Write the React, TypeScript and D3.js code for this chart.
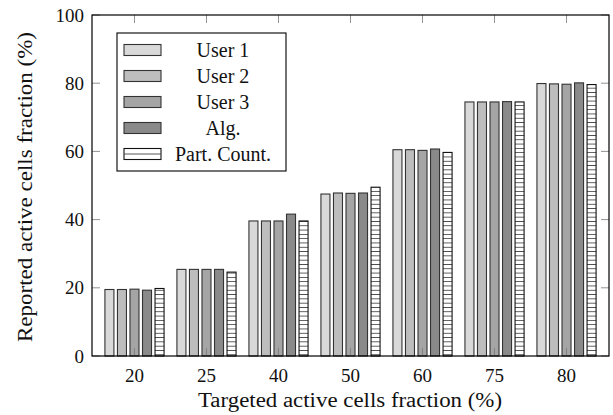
import * as d3 from "d3";

const categories = ["20", "25", "40", "50", "60", "75", "80"];
const seriesNames = ["User 1", "User 2", "User 3", "Alg.", "Part. Count."];
const user1 = [19.5, 25.4, 39.6, 47.5, 60.5, 74.5, 79.9];
const user2 = [19.5, 25.4, 39.6, 47.8, 60.5, 74.5, 79.8];
const user3 = [19.6, 25.4, 39.6, 47.7, 60.3, 74.5, 79.7];
const alg = [19.3, 25.4, 41.6, 47.8, 60.7, 74.6, 80.1];
const partCount = [19.8, 24.6, 39.6, 49.5, 59.7, 74.5, 79.6];
const yTicks = [0, 20, 40, 60, 80, 100];

const seriesValues = [user1, user2, user3, alg, partCount];
const fills = ["#d9d9d9", "#bdbdbd", "#a5a5a5", "#8a8a8a", "url(#hlines)"];

const W = 613;
const H = 415;
const left = 92;
const right = 609;
const top = 15;
const bottom = 356;
const serif = "'Liberation Serif'";
const num = { fontFamily: serif, fontSize: 19, fill: "#111" };
const txt = { fontFamily: serif, fontSize: 20, fill: "#111" };

export default function App() {
  const x = d3.scaleBand().domain(categories).range([left, right]).paddingInner(0.13).paddingOuter(0.155);
  const xs = d3.scaleBand().domain(seriesNames).range([0, x.bandwidth()]).paddingInner(0.28).paddingOuter(0.14);
  const y = d3.scaleLinear().domain([0, 100]).range([bottom, top]);
  const tickLen = 8;

  return (
    <svg width={W} height={H} style={{ position: "absolute", left: 0, top: 0, background: "#fff" }}>
      <defs>
        <pattern id="hlines" patternUnits="userSpaceOnUse" width={6} height={4.3}>
          <rect width={6} height={4.3} fill="#fff" />
          <line x1={0} x2={6} y1={2.15} y2={2.15} stroke="#444" strokeWidth={0.9} />
        </pattern>
      </defs>

      {/* bars */}
      {seriesValues.map((vals, si) =>
        vals.map((v, ci) => (
          <rect
            key={`${si}-${ci}`}
            x={x(categories[ci])! + xs(seriesNames[si])!}
            y={y(v)}
            width={xs.bandwidth()}
            height={bottom - y(v)}
            fill={fills[si]}
            stroke={si === 4 ? "#111" : "#333"}
            strokeWidth={1.1}
          />
        ))
      )}

      {/* ticks */}
      {yTicks.map(t => (
        <g key={"y" + t}>
          <line x1={left} x2={left + tickLen} y1={y(t)} y2={y(t)} stroke="#777" strokeWidth={0.8} />
          <line x1={right} x2={right - tickLen} y1={y(t)} y2={y(t)} stroke="#777" strokeWidth={0.8} />
          <text x={84} y={y(t)} dy="0.35em" textAnchor="end" style={num}>{t}</text>
        </g>
      ))}
      {categories.map(c => {
        const cx = x(c)! + x.bandwidth() / 2;
        return (
          <g key={"x" + c}>
            <line x1={cx} x2={cx} y1={bottom} y2={bottom - tickLen} stroke="#777" strokeWidth={0.8} />
            <line x1={cx} x2={cx} y1={top} y2={top + tickLen} stroke="#777" strokeWidth={0.8} />
            <text x={cx} y={382} textAnchor="middle" style={num}>{c}</text>
          </g>
        );
      })}

      {/* frame */}
      <rect x={left} y={top} width={right - left} height={bottom - top} fill="none" stroke="#000" strokeWidth={1.2} />

      {/* axis titles */}
      <text x={350} y={407} textAnchor="middle" textLength={304} lengthAdjust="spacingAndGlyphs" style={txt}>Targeted active cells fraction (%)</text>
      <text transform={`translate(32,187) rotate(-90)`} textAnchor="middle" textLength={310} lengthAdjust="spacingAndGlyphs" style={txt}>Reported active cells fraction (%)</text>

      {/* legend */}
      <g>
        <rect x={117} y={33} width={169} height={138} fill="#fff" stroke="#000" strokeWidth={1.1} />
        {seriesNames.map((s, i) => {
          const cy = 50 + i * 26;
          return (
            <g key={s}>
              {i === 4 ? (
                <g>
                  <rect x={124} y={cy - 5.5} width={37} height={11} fill="#fff" stroke="#111" strokeWidth={1.1} />
                  <line x1={124} x2={161} y1={cy} y2={cy} stroke="#444" strokeWidth={0.9} />
                </g>
              ) : (
                <rect x={124} y={cy - 5.5} width={37} height={11} fill={fills[i]} stroke="#333" strokeWidth={1.1} />
              )}
              <text x={223} y={cy} dy="0.35em" textAnchor="middle" style={txt}>{s}</text>
            </g>
          );
        })}
      </g>
    </svg>
  );
}
